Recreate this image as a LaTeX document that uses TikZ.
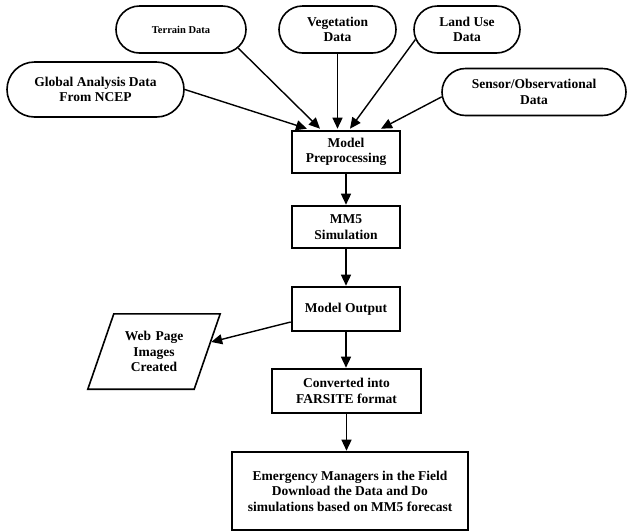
\documentclass[tikz,border=0pt]{standalone}
\usepackage{fontspec}
\setmainfont{Liberation Serif}
\usetikzlibrary{arrows.meta,shapes.misc}
\begin{document}
\begin{tikzpicture}[x=1pt,y=-1pt,
  txt/.style={align=center, font=\bfseries\fontsize{13.5}{15.5}\selectfont},
  pill/.style={rounded rectangle, draw, line width=1.6pt, minimum height=47pt, inner sep=0pt, txt},
  box/.style={rectangle, draw, line width=2.6pt, inner sep=0pt, txt},
  para/.style={line width=1.6pt, line join=miter},
  arr/.style={line width=1.4pt, -{Triangle[length=11pt,width=10pt]}}]
\useasboundingbox (0,0) rectangle (627,531);
% source pills
\node[pill, minimum width=130pt, font=\bfseries\fontsize{10.5}{12}\selectfont] (terr) at (181,29.5) {Terrain Data};
\node[pill, minimum width=117pt] (veg) at (337.5,29.5) {Vegetation\\Data};
\node[pill, minimum width=106pt] (land) at (467,29.5) {Land Use\\Data};
\node[pill, minimum width=177pt, minimum height=55pt] (glob) at (95.5,89.5) {Global Analysis Data\\From NCEP};
\node[pill, minimum width=184pt] (sens) at (534,92) {Sensor/Observational\\Data};
% process boxes
\node[box, minimum width=108pt, minimum height=42pt] (pre) at (346,152) {Model\\Preprocessing};
\node[box, minimum width=108pt, minimum height=42pt] (mm5) at (346,227) {MM5\\Simulation};
\node[box, minimum width=108pt, minimum height=44pt] (out) at (346,309) {Model Output};
\node[box, minimum width=149pt, minimum height=44pt] (conv) at (346.5,391) {Converted into\\FARSITE format};
\node[box, minimum width=236pt, minimum height=78pt] (em) at (350,491) {Emergency Managers in the Field\\Download the Data and Do\\simulations based on MM5 forecast};
% parallelogram (body node + slanted outline)
\node[txt, text width=80pt, minimum height=75pt, inner sep=0pt] (web) at (154,351.5) {Web Page\\Images\\Created};
\draw[para] (web.north west) -- ([xshift=26pt]web.north east) -- (web.south east) -- ([xshift=-26pt]web.south west) -- cycle;
% connectors
\draw[arr] (glob.east) -- ([xshift=-39pt,yshift=1pt]pre.north);
\draw[arr] (terr.-18) -- ([xshift=-26pt,yshift=1pt]pre.north);
\draw[arr] (veg.south) -- ([yshift=1pt]veg.south |- pre.north);
\draw[arr] (land.191) -- ([xshift=4pt,yshift=1pt]pre.north);
\draw[arr] (sens.183) -- ([xshift=35pt,yshift=1pt]pre.north);
\draw[arr] (pre) -- (mm5);
\draw[arr] (mm5) -- (out);
\draw[arr] (out.south) -- (out.south |- conv.north);
\draw[arr] (conv.south) -- (conv.south |- em.north);
\draw[arr] ([yshift=-13pt]out.west) -- ([xshift=17pt,yshift=9.5pt]web.east);
\end{tikzpicture}
\end{document}
